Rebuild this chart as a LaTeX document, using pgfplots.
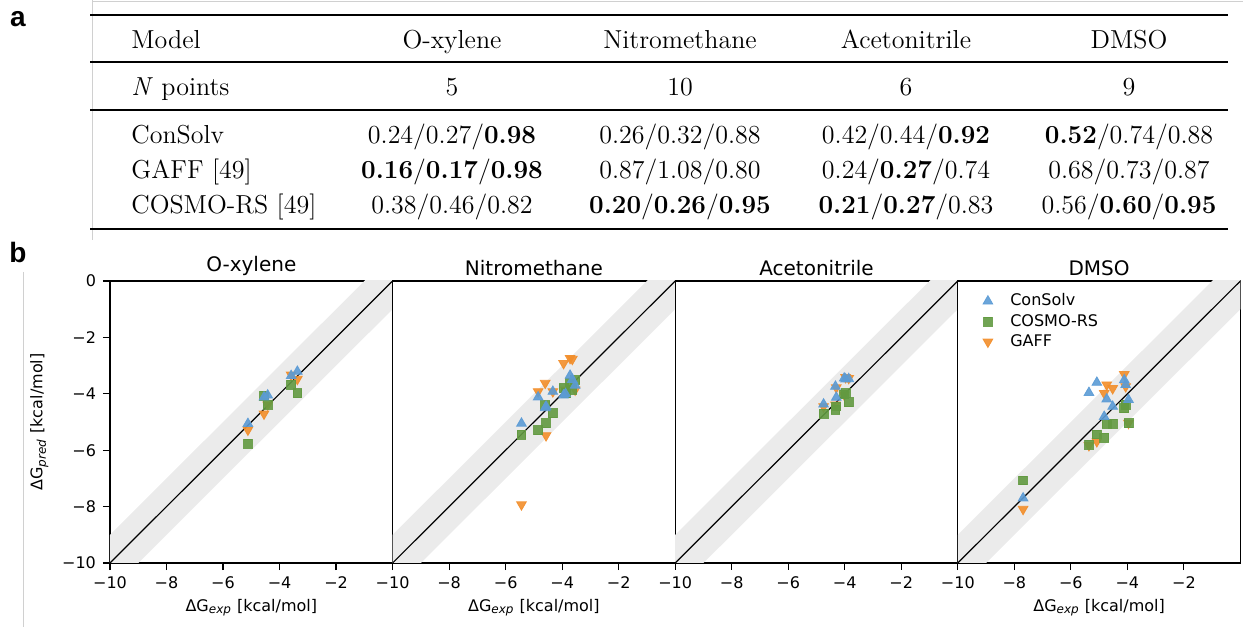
\documentclass[border=0pt]{standalone}
\usepackage{fontspec}
\usepackage{pgfplots}
\pgfplotsset{compat=1.18}
\newfontfamily\dejavu{DejaVu Sans}
\newfontfamily\lsans{Liberation Sans}
\definecolor{consolv}{HTML}{5B9BD5}
\definecolor{cosmo}{HTML}{629A41}
\definecolor{gaff}{HTML}{F28E2B}
\definecolor{band}{HTML}{EBEBEB}
\definecolor{framegray}{HTML}{D0D0D0}

\pgfplotsset{
  panel/.style={
    width=141.3pt, height=141pt, scale only axis,
    xmin=-10, xmax=0, ymin=-10, ymax=0,
    xtick={-10,-8,-6,-4,-2}, xticklabels={−10,−8,−6,−4,−2},
    ytick=\empty,
    xtick pos=left, ytick pos=left,
    tick align=outside, major tick length=3.5pt,
    tick style={black, line width=0.6pt},
    axis line style={black, line width=0.6pt},
    ticklabel style={font=\dejavu\fontsize{8}{9}\selectfont},
    title style={font=\dejavu\fontsize{10}{12}\selectfont, at={(0.5,1)}, anchor=south, yshift=-7pt},
    label style={font=\dejavu\fontsize{8}{9}\selectfont},
    xlabel style={yshift=2pt},
  },
  band/.style={fill=band, draw=none, forget plot},
  diag/.style={black, line width=0.6pt, forget plot},
  gaffm/.style={only marks, mark=triangle*, mark size=2.8pt, color=gaff, mark options={rotate=180, fill opacity=0.9, draw opacity=0.9}},
  cosmom/.style={only marks, mark=square*, mark size=2.2pt, color=cosmo, mark options={fill opacity=0.9, draw opacity=0.9}},
  consolvm/.style={only marks, mark=triangle*, mark size=2.8pt, color=consolv, mark options={fill opacity=0.9, draw opacity=0.9}},
}

\begin{document}
\begin{tikzpicture}
\path[use as bounding box] (0,0) rectangle (621.5pt,313.5pt);

% faint frames of the composed figure
\draw[framegray, line width=0.5pt] (46pt,313.5pt) -- (46pt,193.5pt);
\draw[framegray, line width=0.5pt] (46pt,312.5pt) -- (621.5pt,312.5pt);
\draw[framegray, line width=0.5pt] (11.5pt,177.5pt) -- (11.5pt,0pt);

% panel letters
\node[font=\lsans\bfseries\fontsize{14}{16}\selectfont, anchor=base] at (9pt,300pt) {a};
\node[font=\lsans\bfseries\fontsize{14}{16}\selectfont, anchor=base] at (9pt,182pt) {b};

% table
\draw[line width=1.2pt] (45pt,306pt) -- (614pt,306pt);
\draw[line width=0.6pt] (45pt,282.5pt) -- (614pt,282.5pt);
\draw[line width=0.6pt] (45pt,258.5pt) -- (614pt,258.5pt);
\draw[line width=1.2pt] (45pt,199pt) -- (614pt,199pt);
\begin{scope}[every node/.style={font=\fontsize{13}{15}\selectfont, anchor=base, inner sep=0pt}]
\node[anchor=base west] at (65.5pt,289pt) {Model};
\node at (226pt,289pt) {O-xylene};
\node at (340pt,289pt) {Nitromethane};
\node at (453pt,289pt) {Acetonitrile};
\node at (564.5pt,289pt) {DMSO};
\node[anchor=base west] at (65.5pt,265.5pt) {\textit{N} points};
\node at (226pt,265.5pt) {5};
\node at (340pt,265.5pt) {10};
\node at (453pt,265.5pt) {6};
\node at (564.5pt,265.5pt) {9};
\node[anchor=base west] at (65.5pt,241.5pt) {ConSolv};
\node at (226pt,241.5pt) {0.24/0.27/\textbf{0.98}};
\node at (340pt,241.5pt) {0.26/0.32/0.88};
\node at (453pt,241.5pt) {0.42/0.44/\textbf{0.92}};
\node at (564.5pt,241.5pt) {\textbf{0.52}/0.74/0.88};
\node[anchor=base west] at (65.5pt,224pt) {GAFF [49]};
\node at (226pt,224pt) {\textbf{0.16}/\textbf{0.17}/\textbf{0.98}};
\node at (340pt,224pt) {0.87/1.08/0.80};
\node at (453pt,224pt) {0.24/\textbf{0.27}/0.74};
\node at (564.5pt,224pt) {0.68/0.73/0.87};
\node[anchor=base west] at (65.5pt,206.5pt) {COSMO-RS [49]};
\node at (226pt,206.5pt) {0.38/0.46/0.82};
\node at (340pt,206.5pt) {\textbf{0.20}/\textbf{0.26}/\textbf{0.95}};
\node at (453pt,206.5pt) {\textbf{0.21}/\textbf{0.27}/0.83};
\node at (564.5pt,206.5pt) {0.56/\textbf{0.60}/\textbf{0.95}};
\end{scope}

% O-xylene
\begin{axis}[panel, at={(55pt,32pt)}, anchor=south west,
  title={O-xylene},
  ytick={-10,-8,-6,-4,-2,0}, yticklabels={−10,−8,−6,−4,−2,0},
  xlabel={ΔG\textsubscript{\itshape exp} [kcal/mol]},
  ylabel={ΔG\textsubscript{\itshape pred} [kcal/mol]}]
\addplot[band] coordinates {(-12,-11) (1,2) (1,0) (-12,-13)} -- cycle;
\addplot[diag] coordinates {(-10,-10) (0,0)};
\addplot[gaffm] coordinates {(-5.12,-5.28) (-4.55,-4.71) (-4.42,-4.39) (-3.59,-3.33) (-3.37,-3.48)};
\addplot[cosmom] coordinates {(-5.12,-5.77) (-4.55,-4.07) (-4.42,-4.39) (-3.59,-3.68) (-3.37,-3.98)};
\addplot[consolvm] coordinates {(-5.12,-5.06) (-4.55,-4.12) (-4.42,-4.05) (-3.59,-3.36) (-3.37,-3.21)};
\end{axis}

% Nitromethane
\begin{axis}[panel, at={(196.3pt,32pt)}, anchor=south west,
  title={Nitromethane},
  xlabel={ΔG\textsubscript{\itshape exp} [kcal/mol]}]
\addplot[band] coordinates {(-12,-11) (1,2) (1,0) (-12,-13)} -- cycle;
\addplot[diag] coordinates {(-10,-10) (0,0)};
\addplot[gaffm] coordinates {(-5.44,-7.93) (-4.85,-3.92) (-4.60,-3.62) (-4.57,-5.48) (-4.33,-3.92) (-3.95,-2.92) (-3.88,-3.86) (-3.72,-2.74) (-3.64,-2.77) (-3.54,-3.86)};
\addplot[cosmom] coordinates {(-5.44,-5.45) (-4.85,-5.29) (-4.60,-4.40) (-4.57,-5.04) (-4.33,-4.69) (-3.95,-3.80) (-3.88,-3.98) (-3.72,-3.60) (-3.64,-3.85) (-3.54,-3.51)};
\addplot[consolvm] coordinates {(-5.44,-5.05) (-4.85,-4.12) (-4.60,-4.50) (-4.57,-4.45) (-4.33,-3.92) (-3.95,-4.05) (-3.88,-4.00) (-3.72,-3.35) (-3.64,-3.50) (-3.54,-3.70)};
\end{axis}

% Acetonitrile
\begin{axis}[panel, at={(337.6pt,32pt)}, anchor=south west,
  title={Acetonitrile}]
\addplot[band] coordinates {(-12,-11) (1,2) (1,0) (-12,-13)} -- cycle;
\addplot[diag] coordinates {(-10,-10) (0,0)};
\addplot[gaffm] coordinates {(-4.75,-4.45) (-4.33,-4.39) (-4.30,-3.78) (-4.02,-4.04) (-3.97,-3.42) (-3.86,-3.45)};
\addplot[cosmom] coordinates {(-4.75,-4.71) (-4.33,-4.57) (-4.30,-4.45) (-4.02,-4.02) (-3.97,-3.98) (-3.86,-4.30)};
\addplot[consolvm] coordinates {(-4.75,-4.37) (-4.33,-3.74) (-4.30,-4.13) (-4.02,-3.45) (-3.97,-3.48) (-3.86,-3.47)};
\end{axis}

% DMSO
\begin{axis}[panel, at={(478.9pt,32pt)}, anchor=south west,
  title={DMSO},
  xlabel={ΔG\textsubscript{\itshape exp} [kcal/mol]},
  reverse legend,
  legend image code/.code={\path (0pt,0pt) (15pt,0pt); \draw[#1, only marks] plot coordinates {(6pt,0pt)};},
  legend style={at={(0.04,0.985)}, anchor=north west, draw=none, fill=none,
    font=\dejavu\fontsize{8}{9.5}\selectfont, row sep=-1.3pt},
  legend cell align=left]
\addplot[band] coordinates {(-12,-11) (1,2) (1,0) (-12,-13)} -- cycle;
\addplot[diag] coordinates {(-10,-10) (0,0)};
\addplot[gaffm] coordinates {(-7.69,-8.09) (-5.36,-5.83) (-5.08,-5.69) (-4.82,-3.98) (-4.73,-3.68) (-4.52,-3.81) (-4.11,-3.31) (-4.06,-3.74) (-3.96,-5.04)};
\addlegendentry{GAFF}
\addplot[cosmom] coordinates {(-7.69,-7.07) (-5.36,-5.81) (-5.08,-5.44) (-4.82,-5.55) (-4.73,-5.06) (-4.52,-5.06) (-4.11,-4.51) (-4.06,-4.39) (-3.96,-5.04)};
\addlegendentry{COSMO-RS}
\addplot[consolvm] coordinates {(-7.69,-7.70) (-5.36,-3.96) (-5.08,-3.60) (-4.82,-4.81) (-4.73,-4.19) (-4.52,-4.45) (-4.11,-3.51) (-4.06,-3.68) (-3.96,-4.21)};
\addlegendentry{ConSolv}
\end{axis}
\end{tikzpicture}
\end{document}
